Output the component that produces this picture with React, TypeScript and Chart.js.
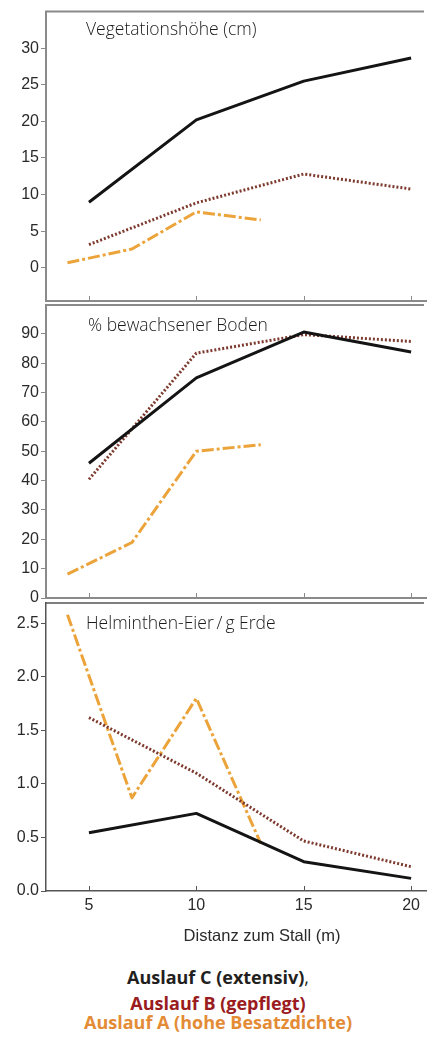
import React, { useEffect, useRef } from 'react';
import { Chart, registerables } from 'chart.js';

Chart.register(...registerables);

// ---- Data ----
const distanceCB = [5, 10, 15, 20];
const distanceA = [4, 7, 10, 13];
const xTickValues = [5, 10, 15, 20];

const vegC = [8.95, 20.2, 25.5, 28.65];
const vegB = [3.15, 8.86, 12.8, 10.75];
const vegA = [0.67, 2.56, 7.64, 6.52];
const vegTicks = [0, 5, 10, 15, 20, 25, 30];

const bodenC = [45.9, 75.0, 90.6, 83.8];
const bodenB = [40.4, 83.4, 89.7, 87.4];
const bodenA = [8.1, 18.9, 50.0, 52.2];
const bodenTicks = [0, 10, 20, 30, 40, 50, 60, 70, 80, 90];

const eierC = [0.544, 0.725, 0.274, 0.118];
const eierB = [1.62, 1.1, 0.467, 0.227];
const eierA = [2.58, 0.87, 1.8, 0.445];
const eierTicks = [0, 0.5, 1.0, 1.5, 2.0, 2.5];

const panelTitles = ['Vegetationshöhe (cm)', '% bewachsener Boden', 'Helminthen-Eier\u2009/\u2009g Erde'];
const xAxisTitle = 'Distanz zum Stall (m)';
const legendLabels = ['Auslauf C (extensiv)', 'Auslauf B (gepflegt)', 'Auslauf A (hohe Besatzdichte)'];

const colorC = '#141414';
const colorB = '#7d3a2e';
const colorA = '#eba33a';

const TICK_FONT = { family: '"Liberation Sans", Arial, sans-serif', size: 16 };

type PanelProps = {
  top: number;
  height: number;
  padTop: number;
  padBottom: number;
  yMin: number;
  yMax: number;
  yTicks: number[];
  decimals: number;
  c: number[];
  b: number[];
  a: number[];
  showXLabels: boolean;
  frameColor: string;
  frameWidth: number;
};

const framePlugin = {
  id: 'frame',
  afterDraw(chart: any, _args: any, opts: any) {
    const { ctx, chartArea, scales } = chart;
    ctx.save();
    ctx.strokeStyle = opts.color;
    ctx.lineWidth = opts.width;
    ctx.beginPath();
    ctx.moveTo(chartArea.left - opts.width / 2, chartArea.top);
    ctx.lineTo(chartArea.right - 3, chartArea.top);
    ctx.stroke();
    ctx.lineWidth = 1;
    ctx.beginPath();
    for (const v of xTickValues) {
      const px = Math.round(scales.x.getPixelForValue(v)) + 0.5;
      ctx.moveTo(px, chartArea.bottom);
      ctx.lineTo(px, chartArea.bottom - 5);
    }
    ctx.stroke();
    ctx.restore();
  },
};

function Panel(p: PanelProps) {
  const ref = useRef<HTMLCanvasElement>(null);
  useEffect(() => {
    if (!ref.current) return;
    const mk = (xs: number[], ys: number[]) => xs.map((x, i) => ({ x, y: ys[i] }));
    const chart = new Chart(ref.current, {
      type: 'line',
      data: {
        datasets: [
          {
            label: 'C',
            data: mk(distanceCB, p.c),
            borderColor: colorC,
            borderWidth: 3,
            pointRadius: 0,
            tension: 0,
            borderJoinStyle: 'round',
          },
          {
            label: 'B',
            data: mk(distanceCB, p.b),
            borderColor: colorB,
            borderWidth: 3,
            borderDash: [2, 2],
            pointRadius: 0,
            tension: 0,
          },
          {
            label: 'A',
            data: mk(distanceA, p.a),
            borderColor: colorA,
            borderWidth: 3,
            borderDash: [12, 3, 3, 3],
            pointRadius: 0,
            tension: 0,
            borderJoinStyle: 'round',
          },
        ],
      },
      options: {
        responsive: false,
        maintainAspectRatio: false,
        animation: false,
        events: [],
        layout: { padding: { left: 0, right: 0, top: p.padTop, bottom: p.padBottom } },
        plugins: {
          legend: { display: false },
          tooltip: { enabled: false },
          title: { display: false },
          frame: { color: p.frameColor, width: p.frameWidth },
        } as any,
        scales: {
          x: {
            type: 'linear',
            min: 3,
            max: 20.74,
            afterBuildTicks: (axis: any) => {
              axis.ticks = xTickValues.map((v) => ({ value: v }));
            },
            afterFit: (axis: any) => {
              axis.height = p.showXLabels ? 28 : 0;
            },
            grid: { display: false, drawOnChartArea: false, drawTicks: false },
            border: { display: true, color: p.frameColor, width: p.frameWidth },
            ticks: {
              display: p.showXLabels,
              padding: 5,
              color: '#2a2a2a',
              font: TICK_FONT,
              maxRotation: 0,
              autoSkip: false,
              callback: (v: any) => String(v),
            },
          },
          y: {
            type: 'linear',
            min: p.yMin,
            max: p.yMax,
            afterBuildTicks: (axis: any) => {
              axis.ticks = p.yTicks.map((v) => ({ value: v }));
            },
            afterFit: (axis: any) => {
              axis.width = 46;
            },
            grid: {
              display: true,
              drawOnChartArea: false,
              drawTicks: true,
              tickLength: 5,
              color: p.frameColor,
              lineWidth: 1,
            },
            border: { display: true, color: p.frameColor, width: p.frameWidth },
            ticks: {
              padding: 2,
              color: '#2a2a2a',
              font: TICK_FONT,
              autoSkip: false,
              callback: (v: any) => Number(v).toFixed(p.decimals),
            },
          },
        },
      },
      plugins: [framePlugin as any],
    });
    return () => chart.destroy();
  }, []);
  return (
    <canvas
      ref={ref}
      width={427}
      height={p.height}
      style={{ position: 'absolute', left: 0, top: p.top, width: 427, height: p.height }}
    />
  );
}

const titleStyle: React.CSSProperties = {
  position: 'absolute',
  left: 86,
  fontFamily: '"Open Sans", "Noto Sans", sans-serif',
  fontWeight: 300,
  fontSize: 17.5,
  lineHeight: '22px',
  color: '#1a1a1a',
  whiteSpace: 'nowrap',
};

const legendStyle: React.CSSProperties = {
  position: 'absolute',
  left: 18,
  width: 400,
  textAlign: 'center',
  fontFamily: '"Open Sans", "Noto Sans", sans-serif',
  fontWeight: 700,
  fontSize: 18,
  lineHeight: '22px',
  whiteSpace: 'nowrap',
};

export default function App() {
  return (
    <div
      style={{
        position: 'absolute',
        left: 0,
        top: 0,
        width: 427,
        height: 1039,
        overflow: 'hidden',
        background: '#fff',
      }}
    >
      {/* Panel 1: area 8..301 */}
      <Panel
        top={0}
        height={320}
        padTop={8}
        padBottom={19}
        yMin={-4.55}
        yMax={35}
        yTicks={vegTicks}
        decimals={0}
        c={vegC}
        b={vegB}
        a={vegA}
        showXLabels={false}
        frameColor="#8a8a8a"
        frameWidth={2}
      />
      {/* Panel 2: area 305..598 */}
      <Panel
        top={290}
        height={330}
        padTop={15}
        padBottom={22}
        yMin={0}
        yMax={99.8}
        yTicks={bodenTicks}
        decimals={0}
        c={bodenC}
        b={bodenB}
        a={bodenA}
        showXLabels={false}
        frameColor="#8a8a8a"
        frameWidth={2}
      />
      {/* Panel 3: area 603..891 */}
      <Panel
        top={590}
        height={340}
        padTop={13}
        padBottom={11}
        yMin={0}
        yMax={2.69}
        yTicks={eierTicks}
        decimals={1}
        c={eierC}
        b={eierB}
        a={eierA}
        showXLabels={true}
        frameColor="#555"
        frameWidth={1.5}
      />
      <div style={{ ...titleStyle, top: 17 }}>{panelTitles[0]}</div>
      <div style={{ ...titleStyle, left: 88, top: 313 }}>{panelTitles[1]}</div>
      <div style={{ ...titleStyle, top: 611 }}>{panelTitles[2]}</div>
      <div
        style={{
          position: 'absolute',
          left: 142,
          width: 240,
          top: 925,
          textAlign: 'center',
          fontFamily: '"Liberation Sans", Arial, sans-serif',
          fontSize: 16.5,
          lineHeight: '20px',
          color: '#2a2a2a',
          whiteSpace: 'nowrap',
        }}
      >
        {xAxisTitle}
      </div>
      <div style={{ ...legendStyle, top: 966, color: '#231f20' }}>
        {legendLabels[0]}
        <span style={{ fontWeight: 400 }}>,</span>
      </div>
      <div style={{ ...legendStyle, top: 992, color: '#9a1b20' }}>{legendLabels[1]}</div>
      <div style={{ ...legendStyle, top: 1011, color: '#e38b35' }}>{legendLabels[2]}</div>
    </div>
  );
}
